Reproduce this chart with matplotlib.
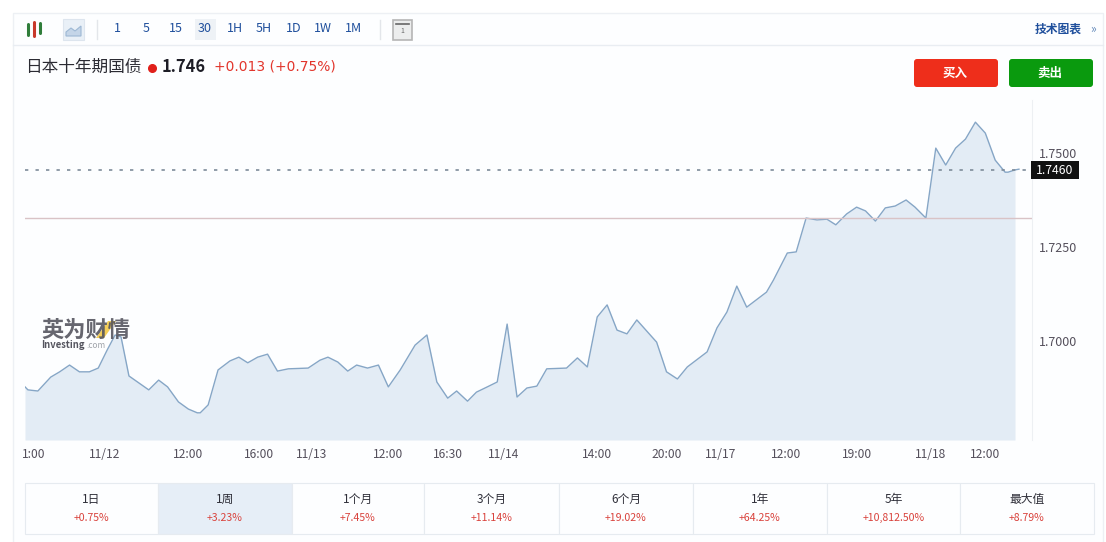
import matplotlib
matplotlib.use("Agg")
import matplotlib.pyplot as plt
from matplotlib.patches import Rectangle, FancyBboxPatch, Polygon
import numpy as np

plt.rcParams['font.family'] = ['Noto Sans CJK SC', 'DejaVu Sans']

# 30 minute bars, position counted from the left edge of the plot
bars = [0, 0.3, 1.3, 2.6, 3.5, 4.5, 5.5, 6.5, 7.4, 8.3, 9.1, 9.7, 10.5, 12.5, 13.5, 14.4, 15.5, 16.5, 17.4, 17.7,
        18.5, 19.5, 20.7, 21.6, 22.5, 23.5, 24.5, 25.5, 26.6, 28.6, 29.8, 30.6, 31.6, 32.6, 33.5, 34.6, 35.7, 36.7,
        37.9, 39.4, 40.6, 41.6, 42.7, 43.6, 44.7, 45.6, 46.7, 47.7, 48.7, 49.7, 50.7, 51.7, 52.7, 54.7, 55.8, 56.8,
        57.8, 58.8, 59.8, 60.8, 61.8, 63.8, 64.8, 65.9, 66.9, 68.9, 69.9, 70.9, 71.9, 72.9, 74.9, 75.6, 77, 77.9,
        78.9, 80, 81, 81.9, 83, 84, 84.9, 85.9, 86.9, 87.9, 89, 89.9, 91, 92, 93, 94, 95, 96, 97, 98, 99, 99.3, 100, 100.4]
prices = [1.6878, 1.6870, 1.6867, 1.6904, 1.6918, 1.6936, 1.6918, 1.6918, 1.6928, 1.6976, 1.7016, 1.7011, 1.6907,
          1.6870, 1.6896, 1.6878, 1.6838, 1.6819, 1.6809, 1.6809, 1.6830, 1.6923, 1.6947, 1.6957, 1.6942, 1.6957,
          1.6965, 1.6920, 1.6926, 1.6928, 1.6949, 1.6957, 1.6944, 1.6920, 1.6936, 1.6928, 1.6936, 1.6878, 1.6923,
          1.6989, 1.7016, 1.6891, 1.6848, 1.6867, 1.6840, 1.6864, 1.6878, 1.6891, 1.7045, 1.6851, 1.6875, 1.6880,
          1.6926, 1.6928, 1.6955, 1.6931, 1.7064, 1.7096, 1.7029, 1.7019, 1.7056, 1.6997, 1.6918, 1.6899, 1.6931,
          1.6971, 1.7035, 1.7077, 1.7146, 1.7090, 1.7130, 1.7162, 1.7234, 1.7237, 1.7327, 1.7322, 1.7324, 1.7309,
          1.7338, 1.7356, 1.7346, 1.7319, 1.7354, 1.7359, 1.7375, 1.7356, 1.7327, 1.7513, 1.7468, 1.7513, 1.7537,
          1.7582, 1.7553, 1.7481, 1.7449, 1.7449, 1.7455, 1.7457]

tick_bars = [0.9, 8, 16.5, 23.6, 29, 36.7, 42.7, 48.3, 57.8, 64.8, 70.3, 76.9, 84, 91.5, 97]
tick_labels = ["1:00", "11/12", "12:00", "16:00", "11/13", "12:00", "16:30", "11/14",
               "14:00", "20:00", "11/17", "12:00", "19:00", "11/18", "12:00"]
y_ticks = [1.70, 1.725, 1.75]
last_level = 1.7455
prev_close = 1.7327

periods = ["1日", "1周", "1个月", "3个月", "6个月", "1年", "5年", "最大值"]
changes = ["+0.75%", "+3.23%", "+7.45%", "+11.14%", "+19.02%", "+64.25%", "+10,812.50%", "+8.79%"]
intervals = ["1", "5", "15", "30", "1H", "5H", "1D", "1W", "1M"]

W, H = 1106, 542
fig = plt.figure(figsize=(W / 100, H / 100), dpi=100, facecolor="white")

# page furniture is laid out in pixels on a background axes
bg = fig.add_axes([0, 0, 1, 1])
bg.set_xlim(0, W)
bg.set_ylim(H, 0)
bg.axis("off")
bg.add_patch(Rectangle((13, 13), 1090, 530, fc="#fdfeff", ec="#edf0f4", lw=1))
bg.plot([13, 1103], [45, 45], color="#e9edf2", lw=1)
bg.plot([97, 97], [20, 39], color="#e3e6ea", lw=1)
bg.plot([380, 380], [20, 39], color="#e3e6ea", lw=1)

# chart type icons
for x, top, bot, col in [(28, 24, 35, "#2f7d3a"), (34, 22, 36, "#c8392b"), (40, 23, 33, "#2f7d3a")]:
    bg.plot([x, x], [top, bot], color=col, lw=2.2, solid_capstyle="round")
bg.add_patch(Rectangle((63, 19), 21, 21, fc="#e9f0f7", ec="#dde5ee", lw=0.8))
bg.add_patch(Polygon([(66, 36), (66, 32), (71, 28), (75, 31), (81, 26), (81, 36)], fc="#c4d5e8", ec="#9db8d4", lw=0.8))
bg.add_patch(Rectangle((195, 19), 21, 21, fc="#eef2f6", ec="none"))
bg.add_patch(Rectangle((393, 20), 19, 20, fc="#eceded", ec="#b5b5b5", lw=1.2))
bg.plot([396, 409], [24, 24], color="#666666", lw=1.2)
bg.text(402, 31, "1", fontsize=5, color="#666666", ha="center", va="center")

for x, lab in zip([117, 146, 176, 205, 235, 264, 294, 323, 353], intervals):
    bg.text(x, 29, lab, fontsize=9, color="#1f4f9c", ha="center", va="center")
bg.text(1058, 29, "技术图表", fontsize=8.5, color="#1f4f9c", ha="center", va="center", fontweight="bold")
bg.text(1093, 29, "»", fontsize=8.5, color="#5f86b8", ha="center", va="center")

bg.text(25, 67, "日本十年期国债", fontsize=12, color="#2b2b33", ha="left", va="center")
bg.plot([152], [68], marker="o", ms=5.5, color="#e0201b")
bg.text(162, 67, "1.746", fontsize=11.8, color="#1d1d26", ha="left", va="center", fontweight="bold")
bg.text(214, 67, "+0.013 (+0.75%)", fontsize=10, color="#e2352c", ha="left", va="center", family="DejaVu Sans")

bg.add_patch(FancyBboxPatch((916, 61), 80, 24, boxstyle="round,pad=2,rounding_size=3", fc="#ee2e1b", ec="none"))
bg.add_patch(FancyBboxPatch((1011, 61), 80, 24, boxstyle="round,pad=2,rounding_size=3", fc="#0a9a0e", ec="none"))
bg.text(955, 73, "买入", fontsize=9, color="white", ha="center", va="center", fontweight="bold")
bg.text(1050, 73, "卖出", fontsize=9, color="white", ha="center", va="center", fontweight="bold")

# range table under the chart
edges = [25, 158, 292, 424, 559, 693, 827, 960, 1094]
for i in range(len(periods)):
    left, right = edges[i], edges[i + 1]
    fc = "#e6eef7" if i == 1 else "#fdfeff"
    bg.add_patch(Rectangle((left, 483), right - left, 51, fc=fc, ec="#e6ebf0", lw=0.8))
    mid = (left + right) / 2
    bg.text(mid, 499, periods[i], fontsize=8.5, color="#30303a", ha="center", va="center")
    bg.text(mid, 518, changes[i], fontsize=7.6, color="#d9423c", ha="center", va="center")

# price plot, limits chosen so 0.025 spans 94 px
ax = fig.add_axes([25 / W, 1 - 440 / H, (1032 - 25) / W, (440 - 100) / H])
ax.patch.set_alpha(0)
ax.set_xlim(0, 1007 / 9.9)
ax.set_ylim(1.75 - 287 / 3760, 1.75 + 53 / 3760)
for side in ["top", "left", "bottom"]:
    ax.spines[side].set_visible(False)
ax.spines["right"].set_color("#edf0f3")

bars = np.array(bars)
prices = np.array(prices)
inside = bars <= 100
ax.fill_between(bars[inside], prices[inside], ax.get_ylim()[0], color="#e3ecf5", lw=0)
ax.plot(bars, prices, color="#86a6c6", lw=1)
ax.axhline(prev_close, color="#d9c3c6", lw=1)
ax.axhline(last_level, color="#7d8b99", lw=1.2, dashes=(2, 4.3))

ax.set_xticks(tick_bars)
ax.set_xticklabels(tick_labels, fontsize=8.7, color="#55505c")
ax.yaxis.tick_right()
ax.set_yticks(y_ticks)
ax.set_yticklabels([f"{v:.4f}" for v in y_ticks], fontsize=9, color="#55505c")
ax.tick_params(length=0)
ax.tick_params(axis="x", pad=6)
ax.tick_params(axis="y", pad=5)

# current price tag and watermark go above everything
top = fig.add_axes([0, 0, 1, 1])
top.set_xlim(0, W)
top.set_ylim(H, 0)
top.axis("off")
top.patch.set_alpha(0)
top.add_patch(Rectangle((1031, 161), 48, 18, fc="#111111", ec="none"))
top.text(1055, 170, "1.7460", fontsize=8.8, color="white", ha="center", va="center")
top.text(41, 330, "英为财情", fontsize=16, color="#55555f", ha="left", va="center", fontweight="bold", alpha=0.9)
top.add_patch(Polygon([(96, 338), (108, 321), (116, 321), (104, 338)], fc="#f2c230", ec="none", alpha=0.8))
top.text(41, 345, "Investing", fontsize=6.8, color="#55555f", ha="left", va="center", fontweight="bold")
top.text(86, 345, ".com", fontsize=6, color="#a0a4aa", ha="left", va="center")

fig.savefig("out.png", dpi=100)
